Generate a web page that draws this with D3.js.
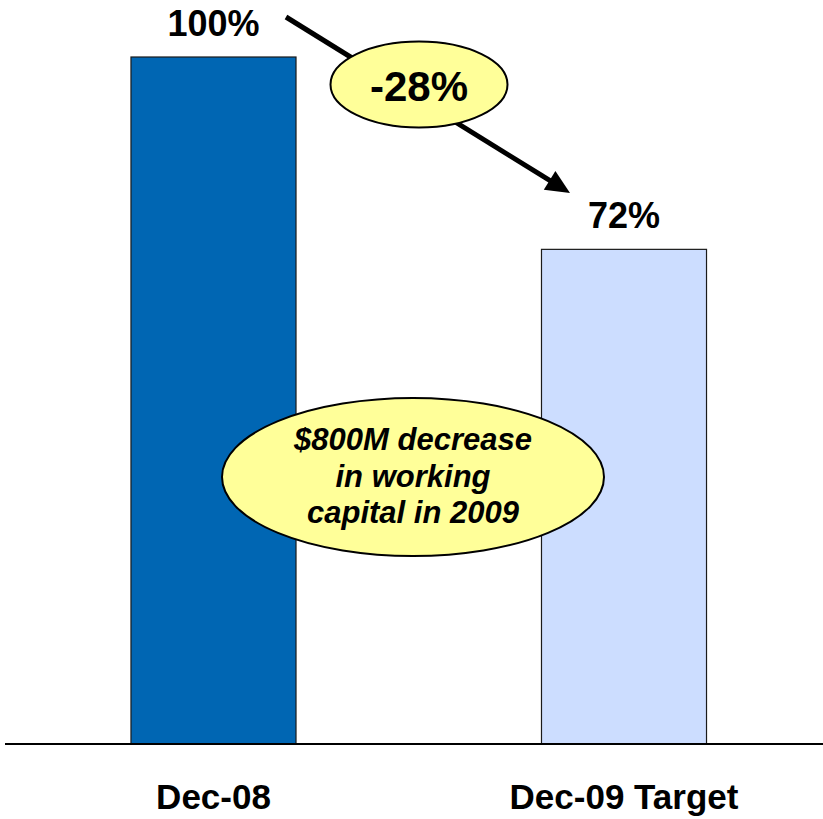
<!DOCTYPE html>
<html>
<head>
<meta charset="utf-8">
<script src="https://cdn.jsdelivr.net/npm/d3@7"></script>
<style>
  html, body { margin: 0; padding: 0; background: #ffffff; }
  svg { display: block; font-family: Arial, "Liberation Sans", sans-serif; }
</style>
</head>
<body>
<svg id="chart" width="823" height="819"></svg>
<script>
// Working capital, indexed to December 2008
const categories = ["Dec-08", "Dec-09 Target"];
const values = [100, 72];
const valueLabels = ["100%", "72%"];
const barColors = ["#0066B3", "#CCDDFF"];
const changeLabel = "-28%";
const noteLines = ["$800M decrease", "in working", "capital in 2009"];

const svg = d3.select("#chart");
const width = 823, height = 819;
const baseY = 744;

const x = d3.scaleBand()
  .domain(categories)
  .range([10.7, 826.8])
  .paddingInner(0.598)
  .paddingOuter(0.293);

const y = d3.scaleLinear()
  .domain([0, 100])
  .range([baseY, 57]);

// Bars
svg.append("g")
  .selectAll("rect")
  .data(categories)
  .join("rect")
  .attr("x", d => x(d))
  .attr("y", (d, i) => y(values[i]))
  .attr("width", x.bandwidth())
  .attr("height", (d, i) => y(0) - y(values[i]))
  .attr("fill", (d, i) => barColors[i])
  .attr("stroke", "#1a1a1a")
  .attr("stroke-width", 1.2);

// Value labels above bars
svg.append("g")
  .selectAll("text")
  .data(categories)
  .join("text")
  .attr("x", d => x(d) + x.bandwidth() / 2)
  .attr("y", (d, i) => y(values[i]) - 21)
  .attr("text-anchor", "middle")
  .attr("font-size", 36)
  .attr("font-weight", "bold")
  .attr("fill", "#000")
  .text((d, i) => valueLabels[i]);

// Category axis
const axis = svg.append("g")
  .attr("transform", `translate(0,${baseY})`)
  .call(d3.axisBottom(x).tickSize(0).tickPadding(40));
axis.select(".domain").remove();
axis.selectAll("text")
  .attr("font-size", 35)
  .attr("font-weight", "bold")
  .attr("font-family", "Arial, 'Liberation Sans', sans-serif")
  .attr("fill", "#000");

// Baseline
svg.append("line")
  .attr("x1", 5).attr("x2", width)
  .attr("y1", baseY).attr("y2", baseY)
  .attr("stroke", "#000")
  .attr("stroke-width", 2);

// Downward change arrow
const a0 = [286, 17], a1 = [570, 193];
const dx = a1[0] - a0[0], dy = a1[1] - a0[1];
const len = Math.hypot(dx, dy);
const ux = dx / len, uy = dy / len;
const headLen = 24, headHalf = 11;
const bx = a1[0] - ux * headLen, by = a1[1] - uy * headLen;
svg.append("line")
  .attr("x1", a0[0]).attr("y1", a0[1])
  .attr("x2", bx + ux * 2).attr("y2", by + uy * 2)
  .attr("stroke", "#000")
  .attr("stroke-width", 5);
svg.append("polygon")
  .attr("points", [
    [a1[0], a1[1]],
    [bx - uy * headHalf, by + ux * headHalf],
    [bx + uy * headHalf, by - ux * headHalf]
  ].map(p => p.join(",")).join(" "))
  .attr("fill", "#000");

// Change callout
svg.append("ellipse")
  .attr("cx", 419).attr("cy", 84.5)
  .attr("rx", 88.5).attr("ry", 43)
  .attr("fill", "#FFFF99")
  .attr("stroke", "#000")
  .attr("stroke-width", 2);
svg.append("text")
  .attr("x", 419).attr("y", 101)
  .attr("text-anchor", "middle")
  .attr("font-size", 42)
  .attr("font-weight", "bold")
  .attr("fill", "#000")
  .text(changeLabel);

// Note callout
svg.append("ellipse")
  .attr("cx", 413).attr("cy", 477)
  .attr("rx", 191).attr("ry", 79)
  .attr("fill", "#FFFF99")
  .attr("stroke", "#000")
  .attr("stroke-width", 2);
svg.append("g")
  .selectAll("text")
  .data(noteLines)
  .join("text")
  .attr("x", 413)
  .attr("y", (d, i) => 450 + i * 36.5)
  .attr("text-anchor", "middle")
  .attr("font-size", 31)
  .attr("font-weight", "bold")
  .attr("font-style", "italic")
  .attr("fill", "#000")
  .text(d => d);
</script>
</body>
</html>
